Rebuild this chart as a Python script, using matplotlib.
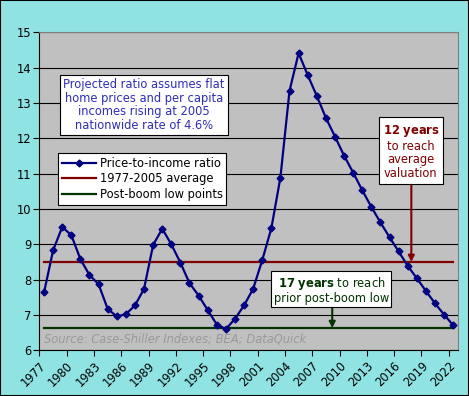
import matplotlib
matplotlib.use('Agg')
import matplotlib.pyplot as plt
from matplotlib.patches import Rectangle

years = list(range(1977, 2023))
ratio = [7.64, 8.83, 9.49, 9.26, 8.58, 8.13, 7.87, 7.17, 6.96, 7.02,
         7.27, 7.74, 8.98, 9.44, 9.00, 8.48, 7.90, 7.55, 7.14, 6.73,
         6.60, 6.89, 7.27, 7.74, 8.55, 9.45, 10.89, 13.34, 14.41, 13.79,
         13.20, 12.58, 12.05, 11.51, 11.03, 10.53, 10.06, 9.62, 9.20, 8.80,
         8.39, 8.04, 7.68, 7.33, 7.01, 6.71]
avg_ratio = 8.5
low_ratio = 6.63
tick_years = years[::3]

navy = '#000080'
dred = '#800000'
dgreen = '#003300'
fs = 8.3

plt.rcParams['font.family'] = 'DejaVu Sans'
plt.rcParams['mathtext.fontset'] = 'dejavusans'

fig = plt.figure(figsize=(4.69, 3.96), dpi=100)
fig.patch.set_facecolor('#90E3E3')
fig.patches.append(Rectangle((0, 0), 1, 1, transform=fig.transFigure, fill=False,
                             edgecolor='black', linewidth=1.5, zorder=10))

ax = fig.add_axes([0.0842, 0.1154, 0.8917, 0.803])
ax.set_facecolor('#C0C0C0')

x = list(range(len(years)))
ax.plot(x, ratio, color=navy, lw=1.6, marker='D', ms=3.5, mec=navy, mfc=navy,
        label='Price-to-income ratio', zorder=5)
ax.plot([x[0], x[-1]], [avg_ratio, avg_ratio], color=dred, lw=1.6,
        label='1977-2005 average', zorder=4)
ax.plot([x[0], x[-1]], [low_ratio, low_ratio], color=dgreen, lw=1.6,
        label='Post-boom low points', zorder=4)

ax.set_xlim(-0.5, len(years) - 0.5)
ax.set_ylim(6, 15)
ax.set_yticks(range(6, 16))
ax.yaxis.grid(True, color='black', lw=0.8)
ax.set_axisbelow(True)
ax.tick_params(axis='y', length=4, width=0.8, labelsize=fs, pad=2)

ti = [years.index(t) for t in tick_years]
ax.set_xticks(ti)
ax.set_xticklabels([str(t) for t in tick_years], rotation=45, ha='right',
                   va='center', rotation_mode='anchor', fontsize=fs)
ax.tick_params(axis='x', which='major', length=0, pad=10)
ax.set_xticks([i - 0.5 for i in ti], minor=True)
ax.tick_params(axis='x', which='minor', length=4, width=0.8)

for s in ['top', 'right']:
    ax.spines[s].set_color('#808080')
for s in ['left', 'bottom']:
    ax.spines[s].set_color('black')

leg = ax.legend(loc='upper left', bbox_to_anchor=(0.045, 0.62), borderaxespad=0,
                fontsize=fs, fancybox=False, framealpha=1, edgecolor='black',
                handlelength=3.0, handletextpad=0.3, labelspacing=0.25,
                borderpad=0.3, numpoints=1)
leg.get_frame().set_linewidth(0.8)

ax.text(11.0, 12.94, 'Projected ratio assumes flat\nhome prices and per capita\n'
        'incomes rising at 2005\nnationwide rate of 4.6%', ha='center', va='center',
        fontsize=fs, color='#2E2EB8', linespacing=1.05,
        bbox=dict(boxstyle='square,pad=0.3', fc='white', ec='black', lw=0.8), zorder=7)

ax.text(40.36, 11.63, '$\\mathbf{12\\ years}$\nto reach\naverage\nvaluation',
        ha='center', va='center', fontsize=fs, color=dred, linespacing=1.05,
        bbox=dict(boxstyle='square,pad=0.35', fc='white', ec='black', lw=0.8), zorder=7)
ax.annotate('', xy=(40.4, avg_ratio), xytext=(40.4, 10.71),
            arrowprops=dict(arrowstyle='-|>', color=dred, lw=1.5, mutation_scale=9,
                            shrinkA=0, shrinkB=0), zorder=6)

ax.text(31.6, 7.71, '$\\mathbf{17\\ years}$ to reach\nprior post-boom low',
        ha='center', va='center', fontsize=fs, color=dgreen, linespacing=0.95,
        bbox=dict(boxstyle='square,pad=0.2', fc='white', ec='black', lw=0.8), zorder=7)
ax.annotate('', xy=(31.7, low_ratio), xytext=(31.7, 7.30),
            arrowprops=dict(arrowstyle='-|>', color=dgreen, lw=1.5, mutation_scale=9,
                            shrinkA=0, shrinkB=0), zorder=6)

ax.text(0.011, 0.036, 'Source: Case-Shiller Indexes; BEA; DataQuick',
        transform=ax.transAxes, fontsize=fs, style='italic', color='#999999',
        ha='left', va='center', zorder=3)

fig.savefig('out.png', dpi=100, facecolor=fig.get_facecolor())
